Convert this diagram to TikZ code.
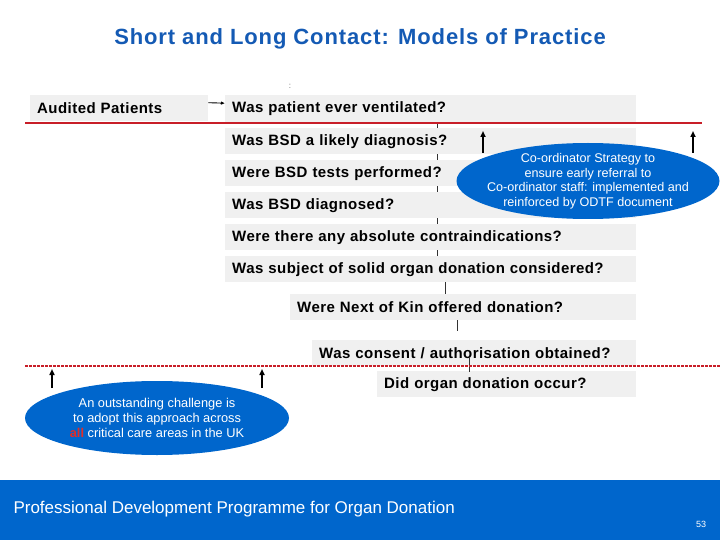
\documentclass[tikz,border=0pt]{standalone}
\usepackage{fontspec}
\setmainfont{Liberation Sans}
\newfontfamily\widefont[LetterSpace=3]{Liberation Sans}
\newfontfamily\titlefont[LetterSpace=4]{Liberation Sans}
\usetikzlibrary{arrows.meta,shapes.geometric}
\definecolor{pdblue}{RGB}{0,102,204}
\definecolor{titleblue}{RGB}{20,90,180}
\definecolor{boxgray}{RGB}{240,240,240}
\definecolor{linered}{RGB}{200,30,40}
\definecolor{allred}{RGB}{225,45,40}
\begin{document}
\begin{tikzpicture}[x=1pt, y=-1pt,
    qbox/.style={fill=boxgray, anchor=north west, minimum height=26pt, inner xsep=7pt,
      inner ysep=0pt, align=left, font=\widefont\bfseries\fontsize{15}{18}\selectfont},
    bubble/.style={ellipse, fill=pdblue, text=white, align=center, inner xsep=-12pt, inner ysep=-4pt},
    tick/.style={draw=black!80, line width=0.6pt},
    uparrow/.style={-{Triangle[width=5pt,length=6pt]}, line width=1.7pt}]
  \useasboundingbox (0,0) rectangle (720,540);
  % title
  \node (title) [font=\titlefont\bfseries\fontsize{22}{26}\selectfont, text=titleblue] at (360,39)
        {Short and Long Contact: Models of Practice};
  \node (colon) [font=\fontsize{8}{9}\selectfont, text=black!60] at (290,86) {:};
  % question boxes
  \node (audit) [qbox, text width=164pt] at (30,95) {Audited Patients};
  \node (q1) [qbox, text width=397pt, minimum height=27pt] at (225,95) {Was patient ever ventilated?};
  \node (q2) [qbox, text width=397pt] at (225,128) {Was BSD a likely diagnosis?};
  \node (q3) [qbox, text width=397pt] at (225,160) {Were BSD tests performed?};
  \node (q4) [qbox, text width=397pt] at (225,192) {Was BSD diagnosed?};
  \node (q5) [qbox, text width=397pt] at (225,224) {Were there any absolute contraindications?};
  \node (q6) [qbox, text width=397pt] at (225,256) {Was subject of solid organ donation considered?};
  \node (q7) [qbox, text width=332pt] at (290,294) {Were Next of Kin offered donation?};
  \node (q8) [qbox, text width=310pt] at (312,340) {Was consent / authorisation obtained?};
  \node (q9) [qbox, text width=245pt] at (377,371) {Did organ donation occur?};
  % connectors
  \coordinate (c1) at (437,0);
  \coordinate (c2) at (445,0);
  \coordinate (c3) at (457,0);
  \coordinate (c4) at (469,0);
  \foreach \a/\b in {q1/q2, q2/q3, q3/q4, q4/q5, q5/q6}
    \draw[tick] (\a.south -| c1) -- (\b.north -| c1);
  \draw[tick] (q6.south -| c2) -- (q7.north -| c2);
  \draw[tick, shorten >=9pt] (q7.south -| c3) -- (q8.north -| c3);
  \draw[tick, shorten <=-9pt, shorten >=-1pt] (q8.south -| c4) -- (q9.north -| c4);
  \draw[-{Latex[length=4pt,width=3.5pt]}, line width=0.9pt] ([yshift=5.5pt]audit.east) -- ([yshift=5.5pt]q1.west);
  % short and long contact lines
  \draw[linered, line width=1.4pt] (25,123) -- (702,123);
  \draw[linered, line width=1.2pt, dash pattern=on 2.5pt off 1.5pt] (25,366) -- (720,366);
  % strategy bubbles
  \node (coord) [bubble, minimum width=263pt, minimum height=76pt,
        font=\fontsize{12.6}{14.5}\selectfont] at (588,181)
        {Co-ordinator Strategy to\\ensure early referral to\\Co-ordinator staff: implemented and\\reinforced by ODTF document};
  \node (challenge) [bubble, minimum width=264pt, minimum height=74pt,
        font=\fontsize{12.8}{15}\selectfont] at (157,418)
        {An outstanding challenge is\\to adopt this approach across\\\textcolor{allred}{\bfseries all} critical care areas in the UK};
  \foreach \x/\yb/\yt in {483/153/131, 693/153/131, 52/388/369, 262/388/369}
    \draw[uparrow] (\x,\yb) -- (\x,\yt);
  % footer
  \fill[pdblue] (0,480) rectangle (720,540);
  \node (footer) [anchor=west, text=white, font=\fontsize{17}{20}\selectfont] at (10,509)
        {Professional Development Programme for Organ Donation};
  \node (page) [text=white, font=\fontsize{9}{10}\selectfont] at (701,524) {53};
\end{tikzpicture}
\end{document}
